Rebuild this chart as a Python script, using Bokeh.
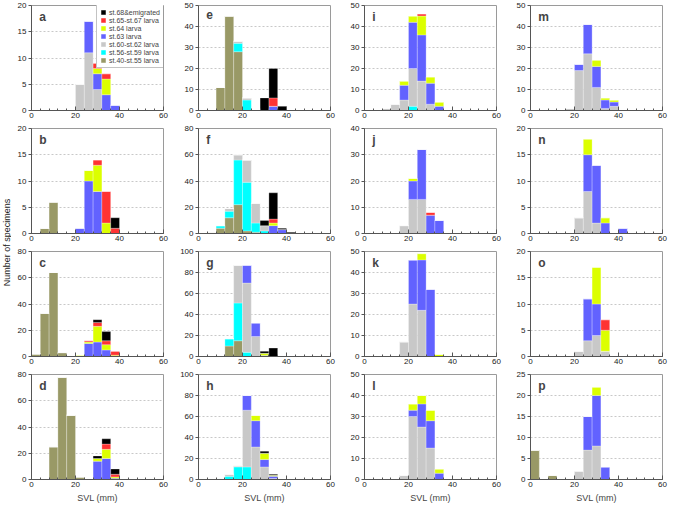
import numpy as np
from bokeh.plotting import figure
from bokeh.models import Range1d, FixedTicker, Label, Legend, LegendItem, ColumnDataSource
from bokeh.layouts import gridplot, row
from bokeh.embed import file_html
from bokeh.resources import INLINE
from bokeh.core.properties import value

# SVL bins (mm), 4 mm wide: left edges
bin_left = [0, 4, 8, 12, 16, 20, 24, 28, 32, 36, 40]

keys = ["s40", "s56", "s60", "s63", "s64", "s65", "s68"]
labels = ["st.40-st.55 larva", "st.56-st.59 larva", "st.60-st.62 larva",
          "st.63 larva", "st.64 larva", "st.65-st.67 larva", "st.68&emigrated"]
colors = ["#999966", "#00ffff", "#c8c8c8", "#6262ff", "#dcff00", "#ff3333", "#000000"]

panel_a = {"s60": [0, 0, 0, 0, 0, 5, 11, 4, 0, 0, 0],
           "s63": [0, 0, 0, 0, 0, 0, 6, 3, 3, 1, 0],
           "s64": [0, 0, 0, 0, 0, 0, 0, 1, 3, 0, 0],
           "s65": [0, 0, 0, 0, 0, 0, 0, 1, 1, 0, 0]}
panel_b = {"s40": [0, 1, 6, 0, 0, 0, 0, 0, 0, 0, 0],
           "s63": [0, 0, 0, 0, 0, 1, 10, 8, 0, 0, 0],
           "s64": [0, 0, 0, 0, 0, 0, 2, 5, 2, 0, 0],
           "s65": [0, 0, 0, 0, 0, 0, 0, 1, 6, 1, 0],
           "s68": [0, 0, 0, 0, 0, 0, 0, 0, 0, 2, 0]}
panel_c = {"s40": [2, 33, 64, 3, 0, 0, 0, 0, 0, 0, 0],
           "s63": [0, 0, 0, 0, 0, 0, 10, 11, 5, 0, 0],
           "s64": [0, 0, 0, 0, 0, 1, 1, 12, 4, 1, 0],
           "s65": [0, 0, 0, 0, 0, 0, 1, 3, 3, 3, 0],
           "s68": [0, 0, 0, 0, 0, 0, 0, 2, 7, 0, 0]}
panel_d = {"s40": [0, 0, 25, 78, 49, 2, 0, 0, 0, 0, 0],
           "s63": [0, 0, 0, 0, 0, 0, 0, 14, 16, 1, 0],
           "s64": [0, 0, 0, 0, 0, 0, 0, 2, 7, 1, 0],
           "s65": [0, 0, 0, 0, 0, 0, 0, 0, 4, 2, 0],
           "s68": [0, 0, 0, 0, 0, 0, 0, 2, 4, 4, 0]}
panel_e = {"s40": [0, 0, 11, 45, 28, 0, 0, 0, 0, 0, 0],
           "s56": [0, 0, 0, 0, 4, 5, 0, 0, 0, 0, 0],
           "s60": [0, 0, 0, 0, 1, 1, 0, 0, 0, 0, 0],
           "s63": [0, 0, 0, 0, 0, 0, 0, 0, 2, 0, 0],
           "s65": [0, 0, 0, 0, 0, 0, 0, 0, 4, 0, 0],
           "s68": [0, 0, 0, 0, 0, 0, 0, 6, 14, 2, 0]}
panel_f = {"s40": [0, 1, 4, 12, 22, 2, 1, 0, 0, 0, 0],
           "s56": [0, 0, 2, 5, 34, 37, 7, 2, 0, 0, 0],
           "s60": [0, 0, 0, 2, 4, 17, 15, 4, 0, 0, 0],
           "s63": [0, 0, 0, 0, 0, 0, 0, 0, 6, 3, 0],
           "s64": [0, 0, 0, 0, 0, 0, 0, 0, 2, 0, 0],
           "s65": [0, 0, 0, 0, 0, 0, 0, 0, 3, 0, 0],
           "s68": [0, 0, 0, 0, 0, 0, 0, 4, 20, 1, 1]}
panel_g = {"s40": [0, 0, 1, 10, 15, 0, 0, 0, 0, 0, 0],
           "s56": [0, 0, 0, 7, 36, 4, 0, 0, 0, 0, 0],
           "s60": [0, 0, 0, 0, 36, 66, 19, 0, 0, 0, 0],
           "s63": [0, 0, 0, 0, 0, 17, 13, 1, 0, 0, 0],
           "s64": [0, 0, 0, 0, 0, 0, 0, 2, 0, 0, 0],
           "s68": [0, 0, 0, 0, 0, 0, 0, 2, 8, 0, 0]}
panel_h = {"s56": [0, 0, 1, 3, 12, 12, 0, 0, 0, 0, 0],
           "s60": [0, 0, 0, 2, 1, 54, 31, 12, 1, 0, 0],
           "s63": [0, 0, 0, 0, 0, 14, 25, 7, 2, 0, 0],
           "s64": [0, 0, 0, 0, 0, 0, 5, 6, 1, 0, 0],
           "s68": [0, 0, 0, 0, 0, 0, 0, 2, 1, 0, 0]}
panel_i = {"s56": [0, 0, 0, 0, 0, 2, 0, 0, 0, 0, 0],
           "s60": [0, 0, 1, 3, 5, 18, 14, 3, 0, 0, 0],
           "s63": [0, 0, 0, 0, 7, 22, 22, 10, 2, 0, 0],
           "s64": [0, 0, 0, 0, 2, 3, 9, 3, 2, 0, 0],
           "s65": [0, 0, 0, 0, 0, 0, 1, 0, 0, 0, 0]}
panel_j = {"s60": [0, 0, 0, 0, 3, 13, 13, 0, 0, 0, 0],
           "s63": [0, 0, 0, 0, 0, 7, 19, 7, 5, 0, 0],
           "s64": [0, 0, 0, 0, 0, 1, 0, 0, 0, 0, 0],
           "s65": [0, 0, 0, 0, 0, 0, 0, 1, 0, 0, 0]}
panel_k = {"s60": [0, 0, 0, 0, 7, 25, 22, 0, 0, 0, 0],
           "s63": [0, 0, 0, 0, 0, 21, 24, 32, 0, 0, 0],
           "s64": [0, 0, 0, 0, 0, 0, 3, 0, 1, 0, 0]}
panel_l = {"s60": [0, 0, 0, 0, 2, 30, 25, 15, 0, 0, 0],
           "s63": [0, 0, 0, 0, 0, 3, 11, 13, 3, 0, 0],
           "s64": [0, 0, 0, 0, 0, 3, 4, 5, 2, 0, 0]}
panel_m = {"s60": [0, 0, 0, 0, 1, 19, 27, 11, 1, 2, 0],
           "s63": [0, 0, 0, 0, 0, 3, 14, 10, 4, 2, 0],
           "s64": [0, 0, 0, 0, 0, 0, 0, 3, 1, 1, 0]}
panel_n = {"s60": [0, 0, 0, 0, 0, 3, 8, 2, 0, 0, 0],
           "s63": [0, 0, 0, 0, 0, 0, 7, 11, 2, 0, 1],
           "s64": [0, 0, 0, 0, 0, 0, 3, 0, 1, 0, 0]}
panel_o = {"s60": [0, 0, 0, 0, 0, 1, 3, 4, 1, 0, 0],
           "s63": [0, 0, 0, 0, 0, 0, 8, 6, 0, 0, 0],
           "s64": [0, 0, 0, 0, 0, 0, 0, 7, 4, 0, 0],
           "s65": [0, 0, 0, 0, 0, 0, 0, 0, 2, 0, 0]}
panel_p = {"s40": [7, 0, 1, 0, 0, 0, 0, 0, 0, 0, 0],
           "s60": [0, 0, 0, 0, 0, 2, 7, 8, 0, 0, 0],
           "s63": [0, 0, 0, 0, 0, 0, 8, 12, 3, 0, 0],
           "s64": [0, 0, 0, 0, 0, 0, 0, 2, 0, 0, 0]}

# y-axis maxima and tick steps
y_max = {"a": 20, "b": 20, "c": 80, "d": 80, "e": 50, "f": 80, "g": 100, "h": 100,
         "i": 50, "j": 40, "k": 50, "l": 50, "m": 50, "n": 20, "o": 20, "p": 25}
y_step = {"a": 5, "b": 5, "c": 20, "d": 20, "e": 10, "f": 20, "g": 20, "h": 20,
          "i": 10, "j": 10, "k": 10, "l": 10, "m": 10, "n": 5, "o": 5, "p": 5}

panels = {"a": panel_a, "b": panel_b, "c": panel_c, "d": panel_d,
          "e": panel_e, "f": panel_f, "g": panel_g, "h": panel_h,
          "i": panel_i, "j": panel_j, "k": panel_k, "l": panel_l,
          "m": panel_m, "n": panel_n, "o": panel_o, "p": panel_p}

grid_letters = [["a", "e", "i", "m"], ["b", "f", "j", "n"],
                ["c", "g", "k", "o"], ["d", "h", "l", "p"]]

FW, FH = 132, 105
TOP, BOT, BOT_LAST, LEFT, RIGHT = 5, 13, 27, 20, 14
FONT = "Liberation Sans"


def make_panel(letter, bottom_row):
    counts = panels[letter]
    ymax = y_max[letter]
    p = figure(frame_width=FW, frame_height=FH, x_range=Range1d(0, 60), y_range=Range1d(0, ymax),
               output_backend="svg", toolbar_location=None,
               min_border_left=LEFT, min_border_right=RIGHT, min_border_top=TOP,
               min_border_bottom=BOT_LAST if bottom_row else BOT)
    data = {"x": [b + 2 for b in bin_left]}
    for k in keys:
        data[k] = counts.get(k, [0] * len(bin_left))
    src = ColumnDataSource(data)
    rs = p.vbar_stack(keys, x="x", width=4, fill_color=colors, source=src,
                      line_color="white", line_alpha=0.45, line_width=0.6)

    p.xaxis.ticker = FixedTicker(ticks=[0, 20, 40, 60], minor_ticks=list(range(0, 61, 4)))
    p.yaxis.ticker = FixedTicker(ticks=list(range(0, ymax + 1, y_step[letter])))
    p.yaxis.minor_tick_line_color = None
    p.axis.major_label_text_font_size = "8px"
    p.axis.major_label_text_font = FONT
    p.axis.major_label_text_color = "#222222"
    p.axis.axis_line_color = "#555555"
    p.axis.major_tick_line_color = "#555555"
    p.xaxis.minor_tick_line_color = "#555555"
    p.xaxis.major_tick_in = 4
    p.xaxis.major_tick_out = 0
    p.xaxis.minor_tick_in = 2
    p.xaxis.minor_tick_out = 0
    p.yaxis.major_tick_in = 0
    p.yaxis.major_tick_out = 3
    p.xaxis.major_label_standoff = 2
    p.yaxis.major_label_standoff = 2
    p.xgrid.visible = False
    p.ygrid.grid_line_color = "#c8c8c8"
    p.ygrid.grid_line_dash = "2 2"
    p.outline_line_color = "#9a9a9a"
    p.background_fill_color = "white"
    p.border_fill_color = "white"

    if bottom_row:
        p.xaxis.axis_label = "SVL (mm)"
        p.xaxis.axis_label_text_font = FONT
        p.xaxis.axis_label_text_font_size = "9px"
        p.xaxis.axis_label_text_font_style = "normal"
        p.xaxis.axis_label_standoff = 3

    p.add_layout(Label(x=3.5, y=ymax * (1 - 4.0 / FH), text=letter, text_baseline="top",
                       text_font=FONT, text_font_size="12px", text_font_style="bold"))

    if letter == "a":
        items = [LegendItem(label=labels[i], renderers=[rs[i]]) for i in reversed(range(len(keys)))]
        lw, lh = 66, 62
        leg = Legend(items=items, location=(FW - 1 - lw, FH - 1 - lh),
                     label_text_font=FONT, label_text_font_size="7px",
                     label_height=8, glyph_height=6, glyph_width=6, label_standoff=3,
                     spacing=0, padding=3, margin=0,
                     border_line_color="#888888", border_line_width=1,
                     background_fill_color="white", background_fill_alpha=1.0)
        p.add_layout(leg)
    return p


rows = []
for ri, letters in enumerate(grid_letters):
    rows.append([make_panel(L, ri == len(grid_letters) - 1) for L in letters])

grid = gridplot(rows, toolbar_location=None)

TOTAL_H = 3 * (TOP + FH + BOT) + (TOP + FH + BOT_LAST)
center_from_top = (TOP + FH + BOT) + (TOP + FH) + (BOT + TOP) / 2.0
lab = figure(width=11, height=TOTAL_H, x_range=Range1d(0, 1), y_range=Range1d(0, TOTAL_H),
             x_axis_type=None, y_axis_type=None, output_backend="svg", toolbar_location=None,
             min_border=0, outline_line_color=None)
lab.text(x=[0.55], y=[TOTAL_H - center_from_top], text=["Number of specimens"], angle=np.pi / 2,
         text_align="center", text_baseline="middle", text_font=value(FONT),
         text_font_size="9px", text_color="#222222")

layout = row(lab, grid)
open("out.html", "w").write(file_html(layout, INLINE))
